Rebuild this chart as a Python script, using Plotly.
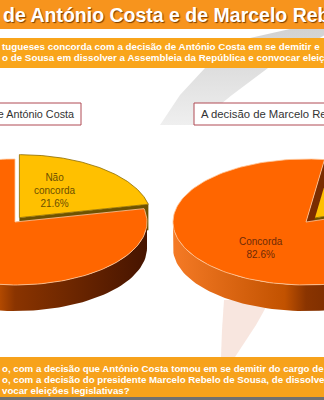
import numpy as np
import plotly.graph_objects as go

# ---------------- data ----------------
categories = ["Não concorda", "Concorda"]
costa_values = [21.6, 78.4]
marcelo_values = [17.4, 82.6]
panel_titles = ["A decisão de António Costa", "A decisão de Marcelo Rebelo de Sousa"]
header_text = "de António Costa e de Marcelo Rebelo de Sousa"
intro_lines = [
    "tugueses concorda com a decisão de António Costa em se demitir e",
    "o de Sousa em dissolver a Assembleia da República e convocar eleiç",
]
question_lines = [
    "o, com a decisão que António Costa tomou em se demitir do cargo de",
    "o, com a decisão do presidente Marcelo Rebelo de Sousa, de dissolve",
    "vocar eleições legislativas?",
]

# ---------------- styles / geometry ----------------
W, H = 324, 400
TOP_COLORS = ["#FFC000", "#FF6600"]
EDGE_COLORS = ["#8a6a00", "#ffc89a"]
CUT_COLORS = ["#6e5200", "#7a2c00"]
WALL_SCALE = [[0, "#f57a25"], [0.42, "#c25200"], [0.5, "#8a3400"], [1, "#461400"]]
LABEL_COLORS = ["#6b4f00", "#6e2a08"]

pies = [
    dict(values=costa_values, cx=15, cy=222, a=132, b=63, depth=26, rot=0,
         explode=[7, 0], label_r=0.55, label_dx=[-10, 0], label_dy=[0, 0],
         wrap=["Não<br>concorda", "Concorda"]),
    dict(values=marcelo_values, cx=306, cy=222, a=133, b=63, depth=26, rot=8,
         explode=[5, 0], label_r=0.53, label_dx=[0, 0], label_dy=[0, 0],
         wrap=["Não<br>concorda", "Concorda"]),
]

fig = go.Figure()


def rim(p, th, ox=0.0, oy=0.0, dz=0.0):
    t = np.radians(th)
    return p["cx"] + ox + p["a"] * np.sin(t), p["cy"] + oy - p["b"] * np.cos(t) + dz


def poly(xs, ys, **kw):
    fig.add_trace(go.Scatter(x=list(xs), y=list(ys), mode="lines", fill="toself",
                             hoverinfo="skip", showlegend=False, **kw))


# decorative swoosh (background)
poly([290, 335, 268, 232, 195, 160, 180, 205, 250, 290],
     [29, 29, 68, 95, 125, 125, 95, 68, 38, 29],
     line=dict(width=0), fillcolor="#e3e3e3",
     fillgradient=dict(type="vertical", start=29, stop=125,
                       colorscale=[[0, "#d2d2d2"], [1, "#efefef"]]))
poly([224, 270, 256, 235, 221, 222, 224],
     [300, 300, 325, 357, 357, 330, 300],
     line=dict(width=0), fillcolor="rgba(246,222,212,0.75)")

annotations = []

for p in pies:
    vals = p["values"]
    total = sum(vals)
    angles = [p["rot"]]
    for v in vals:
        angles.append(angles[-1] + v / total * 360.0)
    for i, v in enumerate(vals):
        t0, t1 = angles[i], angles[i + 1]
        mid = np.radians((t0 + t1) / 2)
        ex = p["explode"][i]
        ox, oy = ex * np.sin(mid), -ex * np.cos(mid) * 0.8
        d = p["depth"]
        cxo, cyo = p["cx"] + ox, p["cy"] + oy
        # cut faces
        for te in (t0, t1):
            rx, ry = rim(p, te, ox, oy)
            poly([cxo, rx, rx, cxo, cxo], [cyo, ry, ry + d, cyo + d, cyo],
                 line=dict(width=0), fillcolor=CUT_COLORS[i])
        # outer wall (front half only)
        w0, w1 = max(t0, 90), min(t1, 270)
        if w1 > w0:
            th = np.linspace(w0, w1, 80)
            xt, yt = rim(p, th, ox, oy)
            xb, yb = rim(p, th[::-1], ox, oy, d)
            poly(np.concatenate([xt, xb, xt[:1]]), np.concatenate([yt, yb, yt[:1]]),
                 line=dict(width=0), fillcolor="#8a3400",
                 fillgradient=dict(type="horizontal", start=p["cx"] - p["a"],
                                   stop=p["cx"] + p["a"], colorscale=WALL_SCALE))
        # top face
        th = np.linspace(t0, t1, 160)
        xt, yt = rim(p, th, ox, oy)
        poly(np.concatenate([[cxo], xt, [cxo]]), np.concatenate([[cyo], yt, [cyo]]),
             line=dict(width=0.8, color=EDGE_COLORS[i]), fillcolor=TOP_COLORS[i])
        # label
        lx = cxo + p["label_r"] * p["a"] * np.sin(mid) + p["label_dx"][i]
        ly = cyo - p["label_r"] * p["b"] * np.cos(mid) + p["label_dy"][i]
        annotations.append(dict(
            x=lx, y=ly, xref="x", yref="y", showarrow=False,
            text=f"{p['wrap'][i]}<br>{v:.1f}%",
            font=dict(family="Liberation Sans, Arial", size=10, color=LABEL_COLORS[i]),
            align="center"))

# ---------------- banners & boxes ----------------
shapes = [
    dict(type="rect", xref="x", yref="y", x0=-2, x1=W + 2, y0=-2, y1=29,
         fillcolor="#F7941D", line=dict(width=0), layer="above"),
    dict(type="rect", xref="x", yref="y", x0=-2, x1=W + 2, y0=38, y1=68,
         fillcolor="#F9A51B", line=dict(width=0), layer="above"),
    dict(type="rect", xref="x", yref="y", x0=-2, x1=W + 2, y0=357, y1=397,
         fillcolor="#F7A21B", line=dict(width=0), layer="above"),
    dict(type="rect", xref="x", yref="y", x0=-2, x1=W + 2, y0=397, y1=402,
         fillcolor="#707070", line=dict(width=0), layer="above"),
    dict(type="rect", xref="x", yref="y", x0=-5, x1=81, y0=103, y1=125,
         fillcolor="white", line=dict(width=1, color="#b04a55"), layer="above"),
    dict(type="rect", xref="x", yref="y", x0=194, x1=W + 40, y0=103, y1=125,
         fillcolor="white", line=dict(width=1, color="#b04a55"), layer="above"),
]

annotations.append(dict(
    x=1, y=15, xref="x", yref="y", xanchor="left", yanchor="middle", showarrow=False,
    text=f"<b>{header_text}</b>",
    font=dict(family="Liberation Sans, Arial", size=19.5, color="white",
              shadow="1px 1px 1px #7a3d00")))

for k, line in enumerate(intro_lines):
    annotations.append(dict(
        x=0, y=46 + 11 * k, xref="x", yref="y", xanchor="left", yanchor="middle",
        showarrow=False, text=f"<b>{line}</b>",
        font=dict(family="Liberation Sans, Arial", size=9.8, color="white")))

for k, line in enumerate(question_lines):
    annotations.append(dict(
        x=0, y=368 + 11 * k, xref="x", yref="y", xanchor="left", yanchor="middle",
        showarrow=False, text=f"<b>{line}</b>",
        font=dict(family="Liberation Sans, Arial", size=9.7, color="white")))

annotations.append(dict(
    x=76, y=114, xref="x", yref="y", xanchor="right", yanchor="middle", showarrow=False,
    text=panel_titles[0],
    font=dict(family="Liberation Sans, Arial", size=10.8, color="#333333")))
annotations.append(dict(
    x=199, y=114, xref="x", yref="y", xanchor="left", yanchor="middle", showarrow=False,
    text=panel_titles[1],
    font=dict(family="Liberation Sans, Arial", size=11.3, color="#333333")))

fig.update_layout(
    width=W, height=H, margin=dict(l=0, r=0, t=0, b=0),
    paper_bgcolor="white", plot_bgcolor="white",
    xaxis=dict(range=[0, W], visible=False, fixedrange=True),
    yaxis=dict(range=[H, 0], visible=False, fixedrange=True),
    shapes=shapes, annotations=annotations, showlegend=False,
)

fig.write_html("out.html")
